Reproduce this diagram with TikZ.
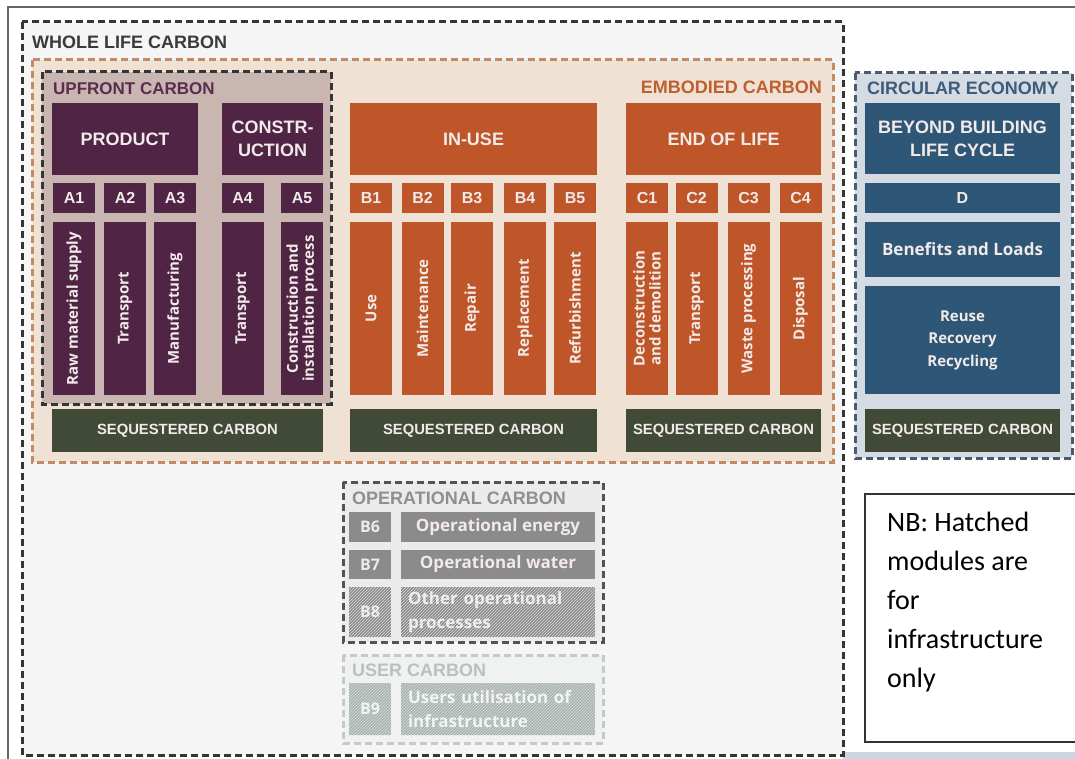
\documentclass[tikz,border=0pt]{standalone}
\usepackage{fontspec}
\usetikzlibrary{patterns}
\setmainfont{Liberation Sans}
\newfontfamily\labelfont{Open Sans}
\newfontfamily\notefont{Carlito}

\definecolor{plum}{HTML}{4F2445}
\definecolor{upfrontbg}{HTML}{C9B6B0}
\definecolor{upfronttxt}{HTML}{5A2C4E}
\definecolor{embodiedbg}{HTML}{EFE2D5}
\definecolor{embodieddash}{HTML}{C38A68}
\definecolor{rust}{HTML}{BF5629}
\definecolor{rusttxt}{HTML}{BF5E30}
\definecolor{olive}{HTML}{414A37}
\definecolor{steel}{HTML}{2E5677}
\definecolor{circbg}{HTML}{D4DBE3}
\definecolor{circtxt}{HTML}{3E5B79}
\definecolor{circdash}{HTML}{4A5B6E}
\definecolor{wholebg}{HTML}{F5F5F5}
\definecolor{wholedash}{HTML}{353535}
\definecolor{wholetxt}{HTML}{3A3A3A}
\definecolor{opbg}{HTML}{EBEBEB}
\definecolor{opbox}{HTML}{8B8B8B}
\definecolor{optxt}{HTML}{8F8F8F}
\definecolor{userbg}{HTML}{F0F1F1}
\definecolor{userbox}{HTML}{A7B3B1}
\definecolor{usertxt}{HTML}{B7C2C0}
\definecolor{userdash}{HTML}{C3CAC9}
\definecolor{paper}{HTML}{F2EAE8}
\definecolor{stripbg}{HTML}{CAD6E2}

\tikzset{
  group/.style={line width=3pt, dash pattern=on 7pt off 4pt},
  title/.style={inner sep=0pt, font=\bfseries\fontsize{18}{20}\selectfont},
  stage/.style={inner sep=0pt, text=paper, align=center, minimum height=72,
    font=\bfseries\fontsize{18}{23}\selectfont},
  code/.style={inner sep=0pt, text=paper, minimum width=42, minimum height=30,
    font=\bfseries\fontsize{16}{18}\selectfont},
  module/.style={inner sep=0pt, text=paper, rotate=90, align=center,
    minimum width=173, minimum height=42,
    font=\labelfont\bfseries\fontsize{15}{16}\selectfont},
  seq/.style={fill=olive, inner sep=0pt, text=paper, minimum height=43,
    font=\bfseries\fontsize{14.8}{17}\selectfont},
  opmod/.style={inner sep=0pt, text=paper, minimum width=194,
    font=\labelfont\bfseries\fontsize{17}{24}\selectfont},
  hatched/.style={postaction={pattern=north east lines, pattern color=white!70!opbox}},
}

\begin{document}
\begin{tikzpicture}[x=1pt, y=-1pt]
  \fill[white] (0,0) rectangle (1075,759);
  \useasboundingbox (0,0) rectangle (1075,759);
  \fill[stripbg] (843,752) rectangle (1075,759);
  \draw[line width=1.2pt, draw=black!60] (8,765) -- (8,7) -- (1080,7);

  % whole life and embodied
  \draw[group, draw=wholedash, fill=wholebg] (22,22) rectangle (843,755);
  \node[title, text=wholetxt, anchor=west] (wholelife) at (32,42) {WHOLE LIFE CARBON};
  \draw[group, draw=embodieddash, fill=embodiedbg] (32,60) rectangle (833,462);
  \node[title, text=rusttxt, anchor=east] (embodied) at (822,87) {EMBODIED CARBON};

  % upfront
  \draw[group, draw=wholedash, fill=upfrontbg] (42,72) rectangle (331,404);
  \node[title, text=upfronttxt, anchor=west, font=\bfseries\fontsize{17}{20}\selectfont] (upfront) at (53,89) {UPFRONT CARBON};
  \node[stage, fill=plum, minimum width=146] (product) at (125,139) {PRODUCT};
  \node[stage, fill=plum, minimum width=101] (constr) at (272.5,139) {CONSTR-\\UCTION};
  \node[code, fill=plum] (a1) at (74,198) {A1};
  \node[code, fill=plum] (a2) at (125,198) {A2};
  \node[code, fill=plum] (a3) at (175,198) {A3};
  \node[code, fill=plum] (a4) at (242.5,198) {A4};
  \node[code, fill=plum] (a5) at (302,198) {A5};
  \node[module, fill=plum] (rawmat) at (74,308.5) {Raw material supply};
  \node[module, fill=plum] (transa) at (125,308.5) {Transport};
  \node[module, fill=plum] (manuf) at (175,308.5) {Manufacturing};
  \node[module, fill=plum] (transb) at (242.5,308.5) {Transport};
  \node[module, fill=plum] (install) at (302,308.5) {Construction and\\installation process};
  \node[seq, minimum width=271] (seqa) at (187.5,430.5) {SEQUESTERED CARBON};

  % in-use
  \node[stage, fill=rust, minimum width=247] (inuse) at (473.5,139) {IN-USE};
  \node[code, fill=rust] (b1) at (371,198) {B1};
  \node[code, fill=rust] (b2) at (422.5,198) {B2};
  \node[code, fill=rust] (b3) at (472,198) {B3};
  \node[code, fill=rust] (b4) at (525,198) {B4};
  \node[code, fill=rust] (b5) at (575,198) {B5};
  \node[module, fill=rust] (use) at (371,308.5) {Use};
  \node[module, fill=rust] (maint) at (422.5,308.5) {Maintenance};
  \node[module, fill=rust] (repair) at (472,308.5) {Repair};
  \node[module, fill=rust] (replace) at (525,308.5) {Replacement};
  \node[module, fill=rust] (refurb) at (575,308.5) {Refurbishment};
  \node[seq, minimum width=247] (seqb) at (473.5,430.5) {SEQUESTERED CARBON};

  % end of life
  \node[stage, fill=rust, minimum width=195] (eol) at (723.5,139) {END OF LIFE};
  \node[code, fill=rust] (c1) at (647,198) {C1};
  \node[code, fill=rust] (c2) at (696.5,198) {C2};
  \node[code, fill=rust] (c3) at (748.5,198) {C3};
  \node[code, fill=rust] (c4) at (800.5,198) {C4};
  \node[module, fill=rust] (decon) at (647,308.5) {Deconstruction\\and demolition};
  \node[module, fill=rust] (transc) at (696.5,308.5) {Transport};
  \node[module, fill=rust] (waste) at (748.5,308.5) {Waste processing};
  \node[module, fill=rust] (disposal) at (800.5,308.5) {Disposal};
  \node[seq, minimum width=195] (seqc) at (723.5,430.5) {SEQUESTERED CARBON};

  % circular economy
  \draw[group, draw=circdash, fill=circbg] (855,73) rectangle (1072,458);
  \node[title, text=circtxt] (circular) at (963,88) {CIRCULAR ECONOMY};
  \node[stage, fill=steel, minimum width=195, minimum height=71] (beyond) at (962.5,138.5) {BEYOND BUILDING\\LIFE CYCLE};
  \node[code, fill=steel, minimum width=195] (dmod) at (962.5,198) {D};
  \node[opmod, fill=steel, minimum width=195, minimum height=55] (benefits) at (962.5,249.5) {Benefits and Loads};
  \node[opmod, fill=steel, minimum width=195, minimum height=108, align=center,
    font=\labelfont\bfseries\fontsize{15}{22.5}\selectfont] (reuse) at (962.5,340) {Reuse\\Recovery\\Recycling};
  \node[seq, minimum width=195] (seqd) at (962.5,430.5) {SEQUESTERED CARBON};

  % operational and user
  \draw[group, draw=wholedash!85, fill=opbg] (343,482) rectangle (603,642);
  \node[title, text=optxt, anchor=west] (operational) at (352,498) {OPERATIONAL CARBON};
  \node[code, fill=opbox, font=\labelfont\bfseries\fontsize{16}{18}\selectfont] (b6) at (370,527) {B6};
  \node[opmod, fill=opbox, minimum height=30] (energy) at (498,527) {Operational energy};
  \node[code, fill=opbox, minimum height=29, font=\labelfont\bfseries\fontsize{16}{18}\selectfont] (b7) at (370,564.5) {B7};
  \node[opmod, fill=opbox, minimum height=29] (water) at (498,564.5) {Operational water};
  \node[code, fill=opbox, hatched, minimum height=50, text=white!85!opbox,
    font=\labelfont\bfseries\fontsize{16}{18}\selectfont] (b8) at (370,612) {B8};
  \node[opmod, fill=opbox, hatched, minimum height=50, text=white!85!opbox,
    align=left, text width=180] (otherop) at (498,612) {Other operational\\processes};

  \draw[group, draw=userdash, fill=userbg] (343,655) rectangle (603,743);
  \node[title, text=usertxt, anchor=west] (user) at (352,670) {USER CARBON};
  \node[code, fill=userbox, hatched, minimum height=52, text=white!85!userbox,
    font=\labelfont\bfseries\fontsize{16}{18}\selectfont] (b9) at (370,709) {B9};
  \node[opmod, fill=userbox, hatched, minimum height=52, text=white!85!userbox,
    align=left, text width=180] (users) at (498,709) {Users utilisation of\\infrastructure};

  % note
  \draw[line width=1.2pt, draw=black!80, fill=white] (865,494) rectangle (1080,742);
  \node[inner sep=0pt, anchor=north west, align=left,
    font=\notefont\fontsize{28}{39}\selectfont] (note) at (887,512)
    {NB: Hatched\\modules are\\for\\infrastructure\\only};
\end{tikzpicture}
\end{document}
